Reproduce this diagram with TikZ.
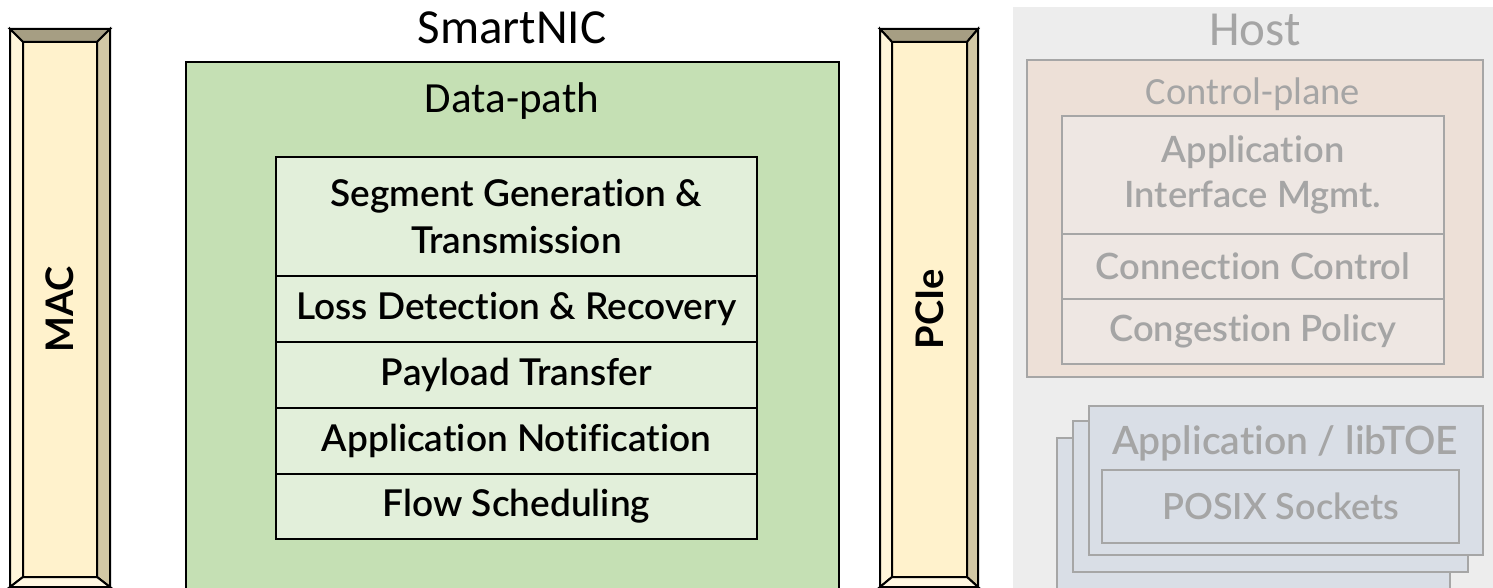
\documentclass[tikz,border=0pt]{standalone}
\usepackage{fontspec}
\setmainfont{Carlito}
\newfontfamily\boxfont{Lato}[UprightFont={* Semibold},BoldFont={* Bold},Ligatures=NoCommon]
\definecolor{barface}{HTML}{FFF2CC}
\definecolor{bartop}{HTML}{A69E83}
\definecolor{barright}{HTML}{D2C8A5}
\definecolor{barleft}{HTML}{FFF6DA}
\definecolor{barbottom}{HTML}{FFF7E2}
\definecolor{dpouter}{HTML}{C5E0B4}
\definecolor{dpinner}{HTML}{E2EFDA}
\definecolor{hostbg}{HTML}{EDEDED}
\definecolor{cpfill}{HTML}{EDE0D7}
\definecolor{cpinner}{HTML}{EEE7E3}
\definecolor{appfill}{HTML}{D9DEE6}
\definecolor{dimline}{HTML}{A6A6A6}
\definecolor{dimtext}{HTML}{A5A5A5}
\tikzset{
  box/.style={inner sep=0pt, outer sep=0pt, anchor=north west},
  dprow/.style={box, draw=black, line width=2.5pt, fill=dpinner, minimum width=481pt,
    align=center, font=\boxfont\fontsize{37}{47}\selectfont},
  cprow/.style={box, draw=dimline, line width=2pt, fill=cpinner, minimum width=382pt,
    align=center, text=dimtext, font=\boxfont\fontsize{36.3}{45}\selectfont},
  appcard/.style={box, draw=dimline, line width=2pt, fill=appfill},
  bevel/.style={draw=black, line width=2pt, line join=miter},
  barlabel/.style={rotate=90, font=\boxfont\bfseries\fontsize{38}{44}\selectfont},
  title/.style={font=\fontsize{49}{56}\selectfont},
}
% a bevelled vertical bar: outer corners (#1,#2)-(#3,#4), inner face (#5,#6)-(#7,#8)
\newcommand\bevelbar[9]{%
  \fill[barface] (#5,#6) rectangle (#7,#8);
  \filldraw[bevel, fill=bartop] (#1,#2) -- (#3,#2) -- (#7,#6) -- (#5,#6) -- cycle;
  \filldraw[bevel, fill=barleft] (#1,#2) -- (#5,#6) -- (#5,#8) -- (#1,#4) -- cycle;
  \filldraw[bevel, fill=barright] (#3,#2) -- (#7,#6) -- (#7,#8) -- (#3,#4) -- cycle;
  \filldraw[bevel, fill=barbottom] (#1,#4) -- (#5,#8) -- (#7,#8) -- (#3,#4) -- cycle;
  \draw[bevel] (#1,#2) rectangle (#3,#4);
  \node[box, minimum width=#7pt-#5pt, minimum height=#8pt-#6pt] (#9) at (#5,#6) {};
}
\begin{document}
\begin{tikzpicture}[x=1pt, y=-1pt]
\useasboundingbox (0,0) rectangle (1493,588);

% MAC and PCIe bars
\bevelbar{10}{29}{110}{587}{23}{42}{97}{577}{mac}
\node[barlabel] at (mac.center) {MAC};
\bevelbar{880}{29}{978}{587}{892}{42}{967}{577}{pcie}
\node[barlabel] at (pcie.center) {PCIe};

% SmartNIC data-path
\node[title] (nic) at (512,28) {SmartNIC};
\node[box, draw=black, line width=2.5pt, fill=dpouter, minimum width=653pt, minimum height=530pt] (dp) at (186,62) {};
\node[font=\fontsize{43}{50}\selectfont] (dplabel) at (512,101) {Data-path};
\node[dprow, minimum height=119pt] (seg) at (276,157) {Segment Generation \&\\Transmission};
\node[dprow, minimum height=66pt] (loss) at (276,276) {Loss Detection \& Recovery};
\node[dprow, minimum height=66pt] (pay) at (276,342) {Payload Transfer};
\node[dprow, minimum height=66pt] (notif) at (276,408) {Application Notification};
\node[dprow, minimum height=65pt] (flow) at (276,474) {Flow Scheduling};

% Host side
\node[box, fill=hostbg, minimum width=480pt, minimum height=581pt] (host) at (1013,7) {};
\node[title, text=dimtext] (hostlabel) at (1255,30) {Host};
\node[box, draw=dimline, line width=2pt, fill=cpfill, minimum width=456pt, minimum height=317pt] (cp) at (1027,60) {};
\node[font=\fontsize{38.5}{44}\selectfont, text=dimtext] (cplabel) at (1253,94) {Control-plane};
\node[cprow, minimum height=118pt] (aim) at (1062,116) {Application\\Interface Mgmt.};
\node[cprow, minimum height=65pt] (conn) at (1062,234) {Connection Control};
\node[cprow, minimum height=65pt] (cong) at (1062,299) {Congestion Policy};

% stacked application instances
\node[appcard, minimum width=393pt, minimum height=160pt] (app3) at (1057,438) {};
\node[appcard, minimum width=395pt, minimum height=151pt] (app2) at (1073,421) {};
\node[appcard, minimum width=394pt, minimum height=149pt] (app1) at (1089,406) {};
\node[text=dimtext, font=\boxfont\fontsize{39}{42}\selectfont] (applabel) at (1285,443) {Application / libTOE};
\node[box, draw=dimline, line width=2pt, minimum width=357pt, minimum height=73pt,
  text=dimtext, font=\boxfont\fontsize{36}{36}\selectfont] (posix) at (1102,470) {POSIX Sockets};
\end{tikzpicture}
\end{document}
